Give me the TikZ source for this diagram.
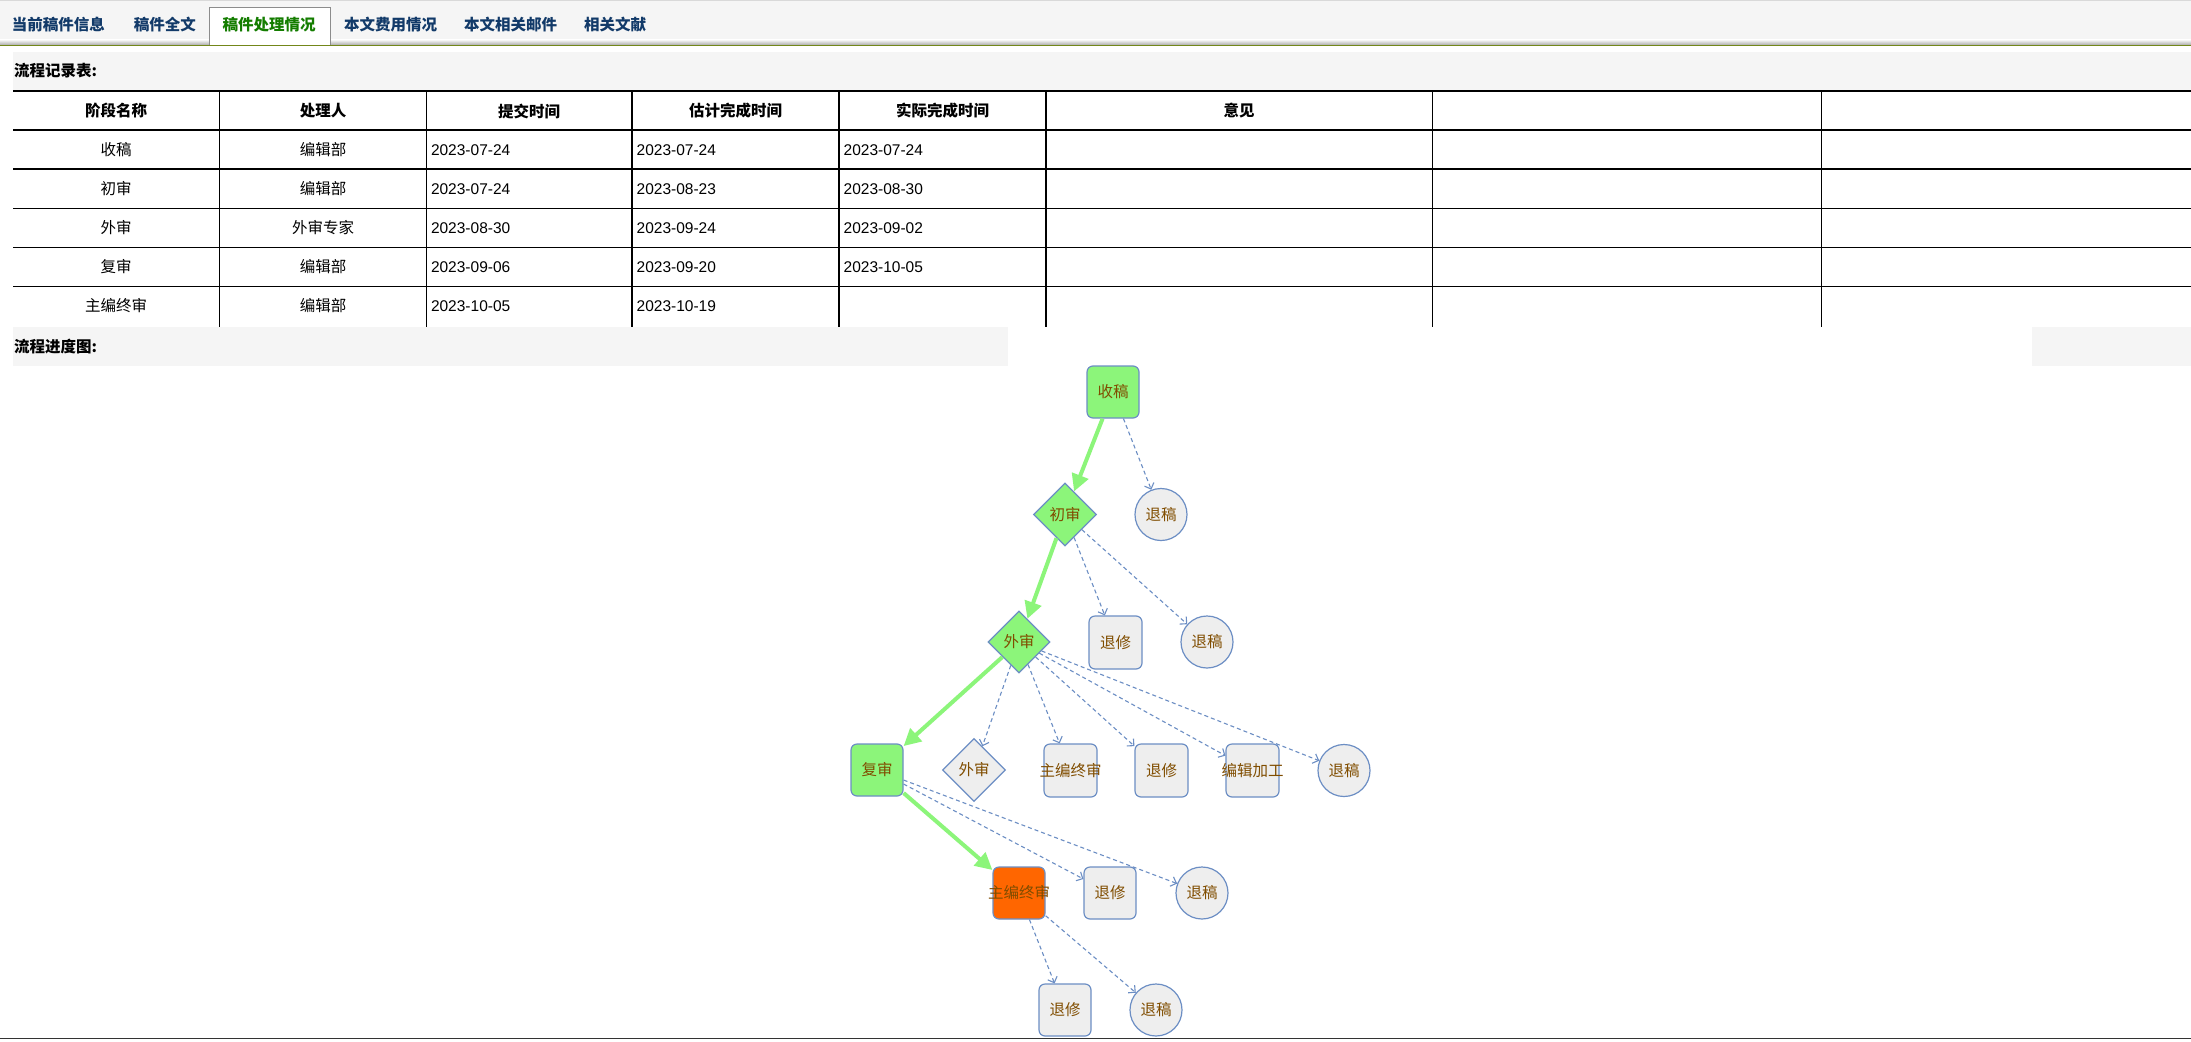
\documentclass[tikz,border=0pt]{standalone}
\usepackage{fontspec}
\setmainfont{Liberation Sans}
\newfontfamily\cjk{Noto Sans CJK SC}
\usetikzlibrary{shapes.geometric,arrows.meta}
\definecolor{barbg}{RGB}{245,245,245}
\definecolor{tabblue}{RGB}{18,58,105}
\definecolor{tabgreen}{RGB}{20,125,0}
\definecolor{olive}{RGB}{115,135,25}
\definecolor{bord}{RGB}{108,142,196}
\definecolor{gnode}{RGB}{140,245,122}
\definecolor{gfill}{RGB}{238,238,238}
\definecolor{ntext}{RGB}{128,77,0}
\definecolor{orangenode}{RGB}{255,102,0}
\definecolor{garrow}{RGB}{140,245,122}
\begin{document}
\begin{tikzpicture}[x=1pt,y=-1pt,
  txt/.style={font=\cjk\fontsize{15.5}{18}\selectfont, inner sep=0pt},
  btxt/.style={font=\cjk\bfseries\fontsize{15.5}{18}\selectfont, inner sep=0pt},
  num/.style={font=\fontsize{15.5}{18}\selectfont, inner sep=0pt, anchor=west},
  tab/.style={btxt, text=tabblue, anchor=west},
  box/.style={rectangle, draw=bord, line width=1.2pt, rounded corners=6pt, fill=gfill, minimum width=52pt, minimum height=52pt, inner sep=0pt},
  dia/.style={diamond, aspect=1, draw=bord, line width=1.2pt, fill=gfill, minimum width=63pt, minimum height=63pt, inner sep=0pt},
  circ/.style={circle, draw=bord, line width=1.2pt, fill=gfill, minimum size=52pt, inner sep=0pt},
  nt/.style={txt, text=ntext},
  garr/.style={draw=garrow, line width=4pt, -{Triangle[length=17pt,width=17pt]}},
  darr/.style={draw=bord, line width=1.1pt, dash pattern=on 4pt off 3pt, -{Straight Barb[length=5pt,width=10pt]}},
  tline/.style={draw=black, line width=1.1pt}
]
\useasboundingbox (0,0) rectangle (2191,1041);
\fill[white] (0,0) rectangle (2191,1041);
% tab bar
\fill[barbg] (0,0) rectangle (2191,41);
\draw[draw=black!15, line width=1pt] (0,0.5) -- (2191,0.5);
\shade[top color=barbg, bottom color=black!30] (0,40) rectangle (2191,44.5);
\draw[fill=white, draw=black!45, line width=1pt] (209.5,45) -- (209.5,8) -- (330.5,8) -- (330.5,45);
\draw[draw=olive, line width=1.3pt] (0,45.2) -- (2191,45.2);
\node[tab] (t1) at (11.6,25) {当前稿件信息};
\node[tab] (t2) at (133.6,25) {稿件全文};
\node[tab, text=tabgreen] (t3) at (222.5,25) {稿件处理情况};
\node[tab] (t4) at (344,25) {本文费用情况};
\node[tab] (t5) at (464,25) {本文相关邮件};
\node[tab] (t6) at (584,25) {相关文献};
% table header bar
\fill[barbg] (13,52) rectangle (2191,91);
\node[btxt, anchor=west] (h1) at (14,71) {流程记录表:};
% table lines
\foreach \y in {91,130,169,208.5,247.5,286.5} {\draw[tline] (13,\y) -- (2191,\y);}
\foreach \x in {219.5,426.3,632,839,1046,1432.3,1821.3} {\draw[tline] (\x,91) -- (\x,326.7);}
% header
\node[btxt] (c1) at (116,111) {阶段名称};
\node[btxt] (c2) at (323,111) {处理人};
\node[btxt] (c3) at (529,111) {提交时间};
\node[btxt] (c4) at (735.5,111) {估计完成时间};
\node[btxt] (c5) at (942.5,111) {实际完成时间};
\node[btxt] (c6) at (1239,111) {意见};
% rows
\node[txt] (r1a) at (116,150) {收稿};
\node[txt] (r1b) at (323,150) {编辑部};
\node[num] (r1c) at (430.8,150) {2023-07-24};
\node[num] (r1d) at (636.5,150) {2023-07-24};
\node[num] (r1e) at (843.5,150) {2023-07-24};
\node[txt] (r2a) at (116,189) {初审};
\node[txt] (r2b) at (323,189) {编辑部};
\node[num] (r2c) at (430.8,189) {2023-07-24};
\node[num] (r2d) at (636.5,189) {2023-08-23};
\node[num] (r2e) at (843.5,189) {2023-08-30};
\node[txt] (r3a) at (116,228) {外审};
\node[txt] (r3b) at (323,228) {外审专家};
\node[num] (r3c) at (430.8,228) {2023-08-30};
\node[num] (r3d) at (636.5,228) {2023-09-24};
\node[num] (r3e) at (843.5,228) {2023-09-02};
\node[txt] (r4a) at (116,267) {复审};
\node[txt] (r4b) at (323,267) {编辑部};
\node[num] (r4c) at (430.8,267) {2023-09-06};
\node[num] (r4d) at (636.5,267) {2023-09-20};
\node[num] (r4e) at (843.5,267) {2023-10-05};
\node[txt] (r5a) at (116,306) {主编终审};
\node[txt] (r5b) at (323,306) {编辑部};
\node[num] (r5c) at (430.8,306) {2023-10-05};
\node[num] (r5d) at (636.5,306) {2023-10-19};
% progress bar
\fill[barbg] (13,327) rectangle (1008,366);
\fill[barbg] (2032,327) rectangle (2191,366);
\node[btxt, anchor=west] (h2) at (14,346.5) {流程进度图:};
% bottom line
\draw[draw=black!80, line width=1.5pt] (0,1038.5) -- (2191,1038.5);
% graph nodes
\node[box, fill=gnode] (sg) at (1113,392) {};
\node[dia, fill=gnode] (cs) at (1065,514.5) {};
\node[circ] (tg1) at (1161,514.5) {};
\node[dia, fill=gnode, minimum width=62pt, minimum height=62pt] (ws) at (1019,642) {};
\node[box, minimum width=53pt, minimum height=53pt] (tx2) at (1115.5,642.5) {};
\node[circ] (tg2) at (1207,642) {};
\node[box, fill=gnode] (fs) at (877,770) {};
\node[dia] (ws4) at (974,770) {};
\node[box, minimum width=53pt, minimum height=53pt] (zb4) at (1070.5,770.5) {};
\node[box, minimum width=53pt, minimum height=53pt] (tx4) at (1161.5,770.5) {};
\node[box, minimum width=53pt, minimum height=53pt] (bj4) at (1252.5,770.5) {};
\node[circ] (tg4) at (1344,770.5) {};
\node[box, fill=orangenode] (zb5) at (1019,893) {};
\node[box] (tx5) at (1110,893) {};
\node[circ] (tg5) at (1202,893) {};
\node[box] (tx6) at (1065,1010) {};
\node[circ] (tg6) at (1156,1010) {};
% connectors
\draw[garr] (sg) -- (cs);
\draw[garr] (cs) -- (ws);
\draw[garr] (ws) -- (fs);
\draw[garr] (fs) -- (zb5);
\draw[darr] (sg) -- (tg1);
\draw[darr] (cs) -- (tx2);
\draw[darr] (cs) -- (tg2);
\draw[darr] (ws) -- (ws4);
\draw[darr] (ws) -- (zb4);
\draw[darr] (ws) -- (tx4);
\draw[darr] (ws) -- (bj4);
\draw[darr] (ws) -- (tg4);
\draw[darr] (fs) -- (tx5);
\draw[darr] (fs) -- (tg5);
\draw[darr] (zb5) -- (tx6);
\draw[darr] (zb5) -- (tg6);
% node texts
\node[nt] (sgt) at (sg) {收稿};
\node[nt] (cst) at (cs) {初审};
\node[nt] (tg1t) at (tg1) {退稿};
\node[nt] (wst) at (ws) {外审};
\node[nt] (tx2t) at (tx2) {退修};
\node[nt] (tg2t) at (tg2) {退稿};
\node[nt] (fst) at (fs) {复审};
\node[nt] (ws4t) at (ws4) {外审};
\node[nt] (zb4t) at (zb4) {主编终审};
\node[nt] (tx4t) at (tx4) {退修};
\node[nt] (bj4t) at (bj4) {编辑加工};
\node[nt] (tg4t) at (tg4) {退稿};
\node[nt] (zb5t) at (zb5) {主编终审};
\node[nt] (tx5t) at (tx5) {退修};
\node[nt] (tg5t) at (tg5) {退稿};
\node[nt] (tx6t) at (tx6) {退修};
\node[nt] (tg6t) at (tg6) {退稿};
\end{tikzpicture}
\end{document}
